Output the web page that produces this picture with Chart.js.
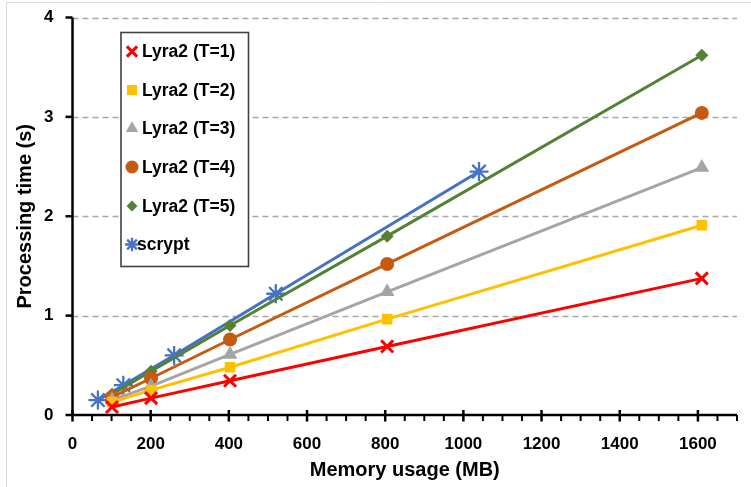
<!DOCTYPE html>
<html>
<head>
<meta charset="utf-8">
<script src="https://cdn.jsdelivr.net/npm/chart.js@4"></script>
<style>
  html, body { margin: 0; padding: 0; background: #ffffff; }
  #wrap { width: 751px; height: 487px; position: relative; }
</style>
</head>
<body>
<div id="wrap"><canvas id="c" width="751" height="487"></canvas></div>
<script>
// ---- data ----
const seriesNames = ['Lyra2 (T=1)', 'Lyra2 (T=2)', 'Lyra2 (T=3)', 'Lyra2 (T=4)', 'Lyra2 (T=5)', 'scrypt'];
const lyraMemory = [101, 201, 403, 805, 1610];
const lyraT1 = [0.08, 0.17, 0.345, 0.69, 1.375];
const lyraT2 = [0.13, 0.25, 0.48, 0.965, 1.91];
const lyraT3 = [0.15, 0.29, 0.61, 1.24, 2.49];
const lyraT4 = [0.18, 0.37, 0.76, 1.52, 3.04];
const lyraT5 = [0.21, 0.44, 0.90, 1.80, 3.62];
const scryptMemory = [65, 130, 260, 520, 1040];
const scryptTime = [0.15, 0.30, 0.60, 1.22, 2.45];
const xTickValues = [0, 200, 400, 600, 800, 1000, 1200, 1400, 1600];
const yTickValues = [0, 1, 2, 3, 4];
const xMinorStep = 50;
const xMax = 1700;
const yMax = 4;

const FONT = '"Liberation Sans", Arial, sans-serif';

function pts(xs, ys) { return xs.map((x, i) => ({ x: x, y: ys[i] })); }

const styles = [
  { color: '#ff0000', pointStyle: 'crossRot', radius: 8.5, pbw: 3 },
  { color: '#ffc000', pointStyle: 'rect', radius: 7.5, pbw: 0 },
  { color: '#a5a5a5', pointStyle: 'triangle', radius: 8.5, pbw: 0 },
  { color: '#c55a11', pointStyle: 'circle', radius: 7, pbw: 0 },
  { color: '#548235', pointStyle: 'rectRot', radius: 6.5, pbw: 0 },
  { color: '#4472c4', pointStyle: 'star', radius: 9.5, pbw: 2.3 }
];
const seriesData = [
  pts(lyraMemory, lyraT1), pts(lyraMemory, lyraT2), pts(lyraMemory, lyraT3),
  pts(lyraMemory, lyraT4), pts(lyraMemory, lyraT5), pts(scryptMemory, scryptTime)
];

const datasets = seriesNames.map((name, i) => ({
  label: name,
  data: seriesData[i],
  borderColor: styles[i].color,
  backgroundColor: styles[i].color,
  pointBackgroundColor: styles[i].color,
  pointBorderColor: styles[i].color,
  pointStyle: styles[i].pointStyle,
  pointRadius: styles[i].radius,
  pointHoverRadius: styles[i].radius,
  pointBorderWidth: styles[i].pbw,
  borderWidth: 3,
  showLine: true,
  fill: false,
  tension: 0
}));

const decor = {
  id: 'decor',
  beforeDatasetsDraw(chart) {
    const ctx = chart.ctx;
    const xs = chart.scales.x, ys = chart.scales.y;
    const L = xs.getPixelForValue(0), R = xs.getPixelForValue(xMax);
    ctx.save();
    ctx.strokeStyle = '#d9d9d9';
    ctx.lineWidth = 1;
    ctx.beginPath();
    ctx.moveTo(6.5, 487); ctx.lineTo(6.5, 2.5); ctx.lineTo(751, 2.5);
    ctx.stroke();
    ctx.strokeStyle = '#a6a6a6';
    ctx.lineWidth = 1.5;
    ctx.setLineDash([6, 4]);
    yTickValues.forEach(v => {
      if (v === 0) return;
      const y = Math.round(ys.getPixelForValue(v)) + 0.5;
      ctx.beginPath(); ctx.moveTo(L, y); ctx.lineTo(R, y); ctx.stroke();
    });
    ctx.setLineDash([]);
    ctx.restore();
  },
  afterDatasetsDraw(chart) {
    const ctx = chart.ctx;
    const xs = chart.scales.x, ys = chart.scales.y;
    const L = xs.getPixelForValue(0), R = xs.getPixelForValue(xMax);
    const B = ys.getPixelForValue(0), T = ys.getPixelForValue(yMax);
    ctx.save();
    ctx.strokeStyle = '#000000';
    ctx.lineWidth = 2.5;
    ctx.beginPath(); ctx.moveTo(L, T); ctx.lineTo(L, B + 1); ctx.stroke();
    ctx.beginPath(); ctx.moveTo(L - 1, B); ctx.lineTo(R, B); ctx.stroke();
    yTickValues.forEach(v => {
      const y = ys.getPixelForValue(v);
      ctx.beginPath(); ctx.moveTo(L - 7, y); ctx.lineTo(L, y); ctx.stroke();
    });
    xTickValues.forEach(v => {
      const x = xs.getPixelForValue(v);
      ctx.beginPath(); ctx.moveTo(x, B - 5); ctx.lineTo(x, B + 6.5); ctx.stroke();
    });
    ctx.lineWidth = 2;
    for (let v = xMinorStep; v <= xMax; v += xMinorStep) {
      if (v % 200 === 0) continue;
      const x = xs.getPixelForValue(v);
      ctx.beginPath(); ctx.moveTo(x, B); ctx.lineTo(x, B + 6); ctx.stroke();
    }
    // legend
    const bx = 121, by = 32.5, bw = 127.5, bh = 234;
    ctx.fillStyle = '#ffffff';
    ctx.fillRect(bx, by, bw, bh);
    ctx.strokeStyle = '#404040';
    ctx.lineWidth = 1.6;
    ctx.strokeRect(bx, by, bw, bh);
    const rowY = [51.5, 90, 128.5, 167, 206, 244.5];
    const textX = [142, 142, 142, 142, 142, 137];
    const legendScale = [0.85, 0.95, 0.85, 0.93, 0.85, 0.72];
    ctx.font = 'bold 17.5px ' + FONT;
    ctx.textBaseline = 'middle';
    ctx.textAlign = 'left';
    chart.data.datasets.forEach((ds, i) => {
      ctx.save();
      ctx.fillStyle = ds.pointBackgroundColor;
      ctx.strokeStyle = ds.pointBorderColor;
      ctx.lineWidth = ds.pointBorderWidth || 0.01;
      Chart.helpers.drawPoint(ctx, {
        pointStyle: ds.pointStyle,
        radius: ds.pointRadius * legendScale[i],
        borderWidth: ds.pointBorderWidth,
        rotation: 0
      }, 132, rowY[i]);
      ctx.restore();
      ctx.fillStyle = '#000000';
      ctx.fillText(ds.label, textX[i], rowY[i] + 1);
    });
    ctx.restore();
  }
};

new Chart(document.getElementById('c'), {
  type: 'scatter',
  data: { datasets: datasets },
  options: {
    responsive: false,
    animation: false,
    devicePixelRatio: 1,
    layout: { padding: { top: 17.5, right: 14, left: 0, bottom: 0 } },
    plugins: { legend: { display: false }, tooltip: { enabled: false } },
    elements: { line: { borderCapStyle: 'round' } },
    scales: {
      x: {
        type: 'linear',
        min: 0, max: xMax,
        afterBuildTicks: s => { s.ticks = xTickValues.map(v => ({ value: v })); },
        afterFit: s => { s.height = 72; s.paddingLeft = 0; s.paddingRight = 0; },
        grid: { display: false, drawTicks: false },
        border: { display: false },
        ticks: {
          padding: 19,
          color: '#000000',
          font: { family: FONT, size: 17, weight: 'bold' },
          maxRotation: 0,
          autoSkip: false,
          callback: v => String(v)
        },
        title: {
          display: true,
          text: 'Memory usage (MB)',
          color: '#000000',
          font: { family: FONT, size: 20, weight: 'bold' },
          padding: { top: 0, bottom: 5 }
        }
      },
      y: {
        type: 'linear',
        min: 0, max: yMax,
        afterBuildTicks: s => { s.ticks = yTickValues.map(v => ({ value: v })); },
        afterFit: s => { s.width = 72.5; s.paddingTop = 0; s.paddingBottom = 0; },
        grid: { display: false, drawTicks: false },
        border: { display: false },
        ticks: {
          padding: 19,
          color: '#000000',
          font: { family: FONT, size: 17, weight: 'bold' },
          autoSkip: false,
          callback: v => String(v)
        },
        title: {
          display: true,
          text: 'Processing time (s)',
          color: '#000000',
          font: { family: FONT, size: 20, weight: 'bold' },
          padding: { top: 13, bottom: 0 }
        }
      }
    }
  },
  plugins: [decor]
});
</script>
</body>
</html>
